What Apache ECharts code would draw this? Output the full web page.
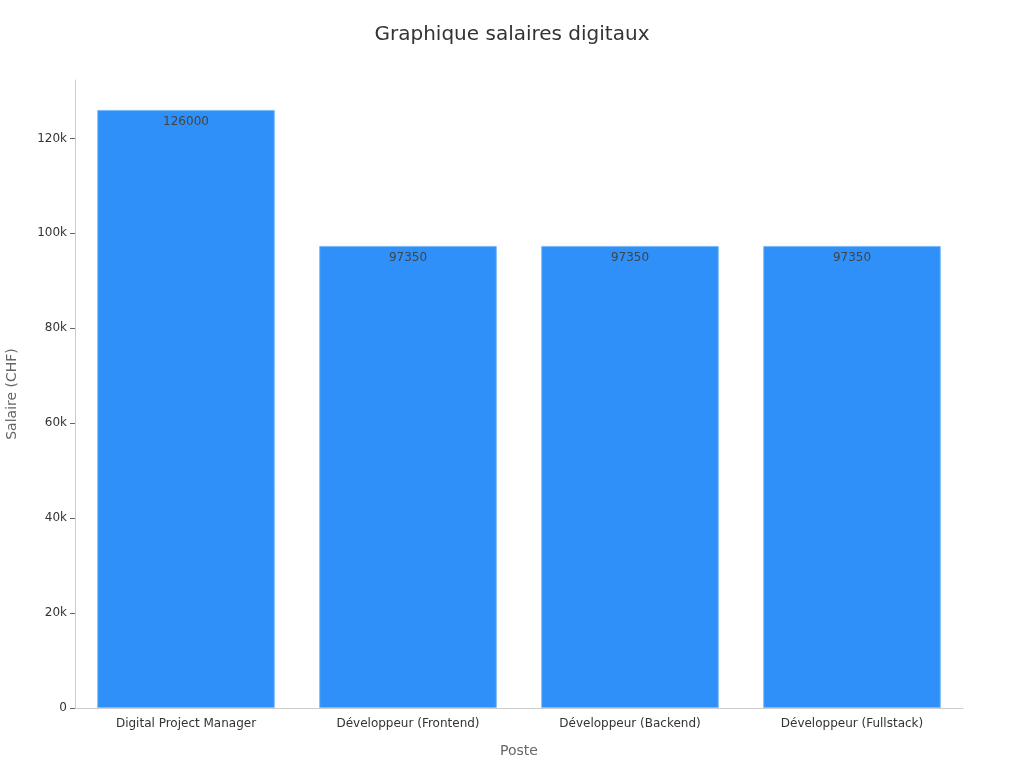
<!DOCTYPE html>
<html>
<head>
<meta charset="utf-8">
<script src="https://cdn.jsdelivr.net/npm/echarts@6/dist/echarts.min.js"></script>
<style>html,body{margin:0;padding:0;background:#fff}#c{width:1024px;height:768px}</style>
</head>
<body>
<div id="c"></div>
<script>
var categories = ["Digital Project Manager", "Développeur (Frontend)", "Développeur (Backend)", "Développeur (Fullstack)"];
var salaries = [126000, 97350, 97350, 97350];
var yTickLabels = ["0", "20k", "40k", "60k", "80k", "100k", "120k"];

var chart = echarts.init(document.getElementById('c'));
chart.setOption({
  textStyle: { fontFamily: 'DejaVu Sans' },
  title: {
    text: 'Graphique salaires digitaux',
    left: 'center', top: 20,
    textStyle: { fontSize: 20, fontWeight: 'normal', color: '#333', fontFamily: 'DejaVu Sans' }
  },
  grid: { left: 75, right: 61, top: 80, bottom: 60, containLabel: false, outerBoundsMode: 'none' },
  xAxis: {
    type: 'category',
    data: categories,
    name: 'Poste', nameLocation: 'middle', nameGap: 36,
    nameTextStyle: { fontSize: 14, color: '#666' },
    axisLine: { lineStyle: { color: '#ccc' } },
    axisTick: { alignWithLabel: true, length: 5, lineStyle: { color: '#999' } },
    axisLabel: { color: '#333', fontSize: 12, margin: 10 }
  },
  yAxis: {
    type: 'value',
    min: 0, max: 132300, interval: 20000,
    name: 'Salaire (CHF)', nameLocation: 'middle', nameGap: 56,
    nameTextStyle: { fontSize: 14, color: '#666' },
    axisLine: { show: true, lineStyle: { color: '#ccc' } },
    axisTick: { show: true, length: 5, lineStyle: { color: '#666' } },
    splitLine: { show: false },
    axisLabel: {
      color: '#333', fontSize: 12, showMaxLabel: false, margin: 8,
      formatter: function (v) { return v % 20000 === 0 ? yTickLabels[v / 20000] : ''; }
    }
  },
  series: [{
    type: 'bar',
    data: salaries,
    barCategoryGap: '20%',
    itemStyle: { color: '#2E90F8', borderColor: '#7DBBFA', borderWidth: 1 },
    label: { show: true, position: 'insideTop', distance: 6, color: '#444', fontSize: 12 }
  }]
});
</script>
</body>
</html>
